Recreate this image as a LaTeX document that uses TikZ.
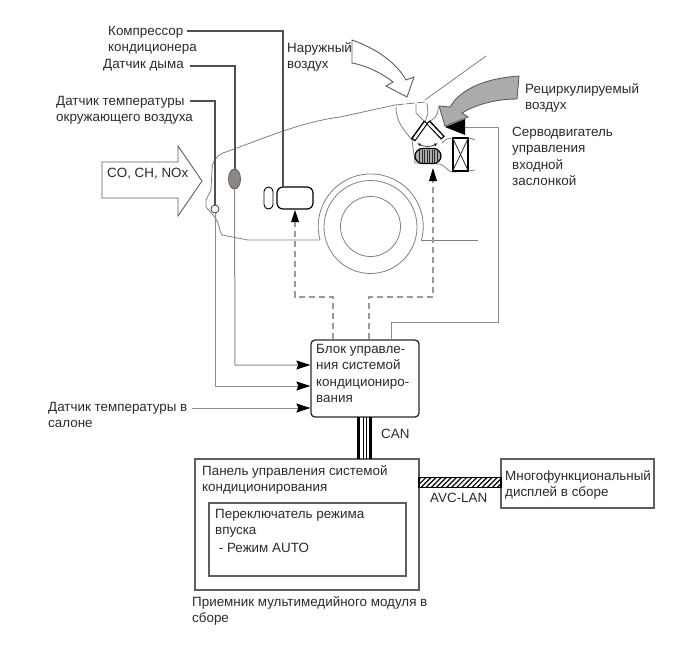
\documentclass[tikz,border=0pt]{standalone}
\usepackage{fontspec}
\setmainfont{Liberation Sans}
\usepackage{xcolor}
\usetikzlibrary{
  arrows.meta,
  shapes.geometric,
  patterns.meta,
  positioning,
  calc
}
\definecolor{acInk}{HTML}{2A2A2A}
\definecolor{acLead}{HTML}{505050}
\definecolor{acLine}{HTML}{5E5E5E}
\definecolor{acSig}{HTML}{8A8A8A}
\definecolor{acBody}{HTML}{808080}
\definecolor{acDash}{HTML}{9A9A9A}
\definecolor{acFill}{HTML}{ABABAB}
\definecolor{acSens}{HTML}{8C8780}
\tikzset{
  lbl/.style={font=\fontsize{13.4}{16.3}\selectfont, text=acInk, align=left, inner sep=0pt, anchor=north west},
  acbox/.style={draw=acInk, line width=1pt, inner sep=0pt},
  body/.style={draw=acBody, line width=0.8pt},
  leader/.style={draw=acLead, line width=1.1pt},
  sigline/.style={draw=acSig, line width=1pt, -{Stealth[length=14pt,width=9pt,inset=2pt,black]}},
  dashline/.style={draw=acDash, line width=1.1pt, dash pattern=on 6pt off 4pt},
  bigarrow/.style={draw=acLine, line width=0.9pt, fill=white},
  flap/.style={draw=black, line width=5pt, line cap=butt}
}
\begin{document}
\begin{tikzpicture}[x=1pt,y=-1pt]
  \useasboundingbox (0,0) rectangle (690,659);

  % car body and wheel
  \draw[body] (395,105) -- (340,117) .. controls (300,122) and (260,140) .. (223,153)
    .. controls (215,157) and (212,162) .. (212,170) -- (211,190) -- (206,200) -- (206,207)
    -- (213,215) .. controls (220,222) and (219,232) .. (222,235) -- (248,240) -- (320,240);
  \draw[body] (421,240) -- (478,240);
  \draw[body] (320,240) arc[start angle=195, end angle=-15, radius=52.5pt];
  \node[draw=acBody, line width=0.8pt, circle, minimum size=93pt, inner sep=0pt] (tyre) at (370.5,227) {};
  \node[draw=acBody, line width=0.8pt, circle, minimum size=60pt, inner sep=0pt] (wheel) at (370.5,226.5) {};

  % air intake ducts
  \draw[body] (486,56) -- (425,100);
  \draw[body, dash pattern=on 9pt off 2pt] (395,105) -- (425,102);
  \draw[body] (396,107) .. controls (396,122) and (404,130) .. (412,140) -- (415,163) -- (440,164)
    .. controls (446,166) and (448,172) .. (453,172) -- (468,171) .. controls (471,171) and (473,170) .. (475,170);
  \draw[body] (416,104) -- (416,113) -- (425,122) -- (428,113) -- (427,103);
  \draw[body] (438,107) .. controls (439,116) and (433,120) .. (428,122);
  \draw[body] (442,143) .. controls (445,139) and (449,138) .. (453,138) -- (468,138) .. controls (471,138) and (473,139) .. (475,140);
  \draw[flap] (426,122) -- (413,140);
  \draw[flap] (428,122) -- (443,138);
  \draw[white, line width=2.4pt] (425.5,123) -- (414,139);
  \draw[white, line width=2.4pt] (428.5,123) -- (442,137);
  \draw[acInk, line width=0.7pt, {Latex[length=4pt,width=3pt]}-{Latex[length=4pt,width=3pt]}]
    (417,143) .. controls (424,147) and (431,147) .. (438,143);

  % blower and filter
  \node[draw=black, line width=1.2pt, fill=acFill, rounded corners=7.5pt, minimum width=26pt, minimum height=15pt, inner sep=0pt] (blower) at (428,156) {};
  \foreach \x in {419.5,422,...,437}{\draw[acInk, line width=0.8pt] (\x,149.5) -- (\x,162.5);}
  \node[draw=black, line width=1.2pt, minimum width=15pt, minimum height=33pt, inner sep=0pt] (filter) at (460.5,154.5) {};
  \draw[acInk, line width=0.8pt] (filter.north west) -- (filter.south east);
  \draw[acInk, line width=0.8pt] (filter.north east) -- (filter.south west);

  % outside and recirculated air arrows
  \draw[bigarrow] (352,40) .. controls (375,48) and (396,62) .. (406,80) -- (414,77) -- (407,97) -- (386,86) -- (393,82)
    .. controls (383,74) and (368,66) .. (352,63) -- cycle;
  \draw[bigarrow, fill=acFill] (519,76) .. controls (490,78) and (468,86) .. (455,100) -- (450,107) -- (439,106)
    -- (445,126) -- (468,117) -- (462,113) .. controls (475,105) and (495,99) .. (517,99) -- cycle;
  \draw[bigarrow] (102,162) -- (178,162) -- (178,146) -- (202,181) -- (178,216) -- (178,198) -- (102,198) -- cycle;

  % components on the car
  \node[draw=black, line width=0.9pt, rounded corners=4.5pt, minimum width=9pt, minimum height=22pt, inner sep=0pt] (slim) at (268.5,198) {};
  \node[draw=black, line width=1.2pt, rounded corners=6pt, minimum width=36pt, minimum height=22pt, inner sep=0pt] (comp) at (295,198) {};
  \node[draw=acLine, line width=0.8pt, fill=acSens, ellipse, minimum width=12pt, minimum height=20pt, inner sep=0pt] (smoke) at (234.5,179) {};
  \node[draw=acInk, line width=0.7pt, fill=white, circle, minimum size=8pt, inner sep=0pt] (ambient) at (215,209) {};

  % control units
  \node[acbox, line width=1.3pt, rounded corners=4pt, minimum width=108pt, minimum height=77pt] (ecu) at (365,378.5) {};
  \node[acbox, draw=acLine, line width=1.2pt, minimum width=224pt, minimum height=131pt] (panel) at (307,524.5) {};
  \node[acbox, draw=acLine, line width=1.2pt, minimum width=197pt, minimum height=73pt] (mode) at (307.5,539.5) {};
  \node[acbox, draw=acLine, line width=1.2pt, minimum width=153pt, minimum height=49pt] (disp) at (577.5,483.5) {};

  % labels
  \node[lbl] (lcomp) at (108,26) {Компрессор\\кондиционера};
  \node[lbl] (lsmoke) at (103,59) {Датчик дыма};
  \node[lbl] (lamb) at (56,96) {Датчик температуры\\окружающего воздуха};
  \node[lbl] (lgas) at (107,168) {CO, CH, NOx};
  \node[lbl] (lout) at (287,42) {Наружный\\воздух};
  \node[lbl] (lrec) at (525,83) {Рециркулируемый\\воздух};
  \node[lbl] (lservo) at (512,127) {Серводвигатель\\управления\\входной\\заслонкой};
  \node[lbl] (lecu) at (316,344) {Блок управле-\\ния системой\\кондициониро-\\вания};
  \node[lbl] (lroom) at (48,402) {Датчик температуры в\\салоне};
  \node[lbl] (lcan) at (381,429) {CAN};
  \node[lbl] (lpanel) at (202,465) {Панель управления системой\\кондиционирования};
  \node[lbl] (lmode) at (215,509) {Переключатель режима\\впуска\\[1pt]\ - Режим AUTO};
  \node[lbl] (lavc) at (430,493) {AVC-LAN};
  \node[lbl] (ldisp) at (505,470) {Многофункциональный\\дисплей в сборе};
  \node[lbl] (lunit) at (192,596) {Приемник мультимедийного модуля в\\сборе};

  % leaders into the ECU
  \coordinate (c1) at (283,31);
  \coordinate (c2) at (235,66);
  \coordinate (c3) at (215,101);
  \draw[leader] (187,31) -- (c1) -- (c1 |- comp.north);
  \draw[leader] (190,66) -- (c2) -- (c2 |- smoke.north);
  \draw[leader] (190,101) -- (c3) -- (ambient.north);
  \draw[sigline] (smoke.south) -- (235,365) -- (ecu.west |- 0,365);
  \draw[sigline] (ambient.south) -- (215,386) -- (ecu.west |- 0,386);
  \draw[sigline] (192,408) -- (ecu.west |- 0,408);

  % dashed control lines
  \coordinate (d1) at (295,297);
  \coordinate (d2) at (333,297);
  \coordinate (d3) at (369,297);
  \coordinate (d4) at (433,297);
  \draw[dashline] (d2 |- ecu.north) -- (d2) -- (d1) -- (295,222);
  \draw[dashline] (d3 |- ecu.north) -- (d3) -- (d4) -- (433,181);
  \fill[black] (295,210) -- (291,222) -- (299,222) -- cycle;
  \fill[black] (433,168) -- (429,181) -- (437,181) -- cycle;

  % servo feed
  \coordinate (s1) at (391,322);
  \coordinate (s2) at (498,322);
  \coordinate (s3) at (498,127);
  \draw[draw=acSig, line width=0.9pt] (s1 |- ecu.north) -- (s1) -- (s2) -- (s3) -- (465,127);
  \fill[black] (445,127) -- (465,119) -- (465,135) -- cycle;

  % buses
  \foreach \x/\w in {358.7/3.4pt, 363.3/1.6pt, 366.7/1.2pt, 370.4/2.4pt}{\draw[black, line width=\w] (\x,417) -- (\x,459);}
  \draw[black, line width=1.8pt, preaction={fill=white}, pattern={Lines[angle=45,distance=3.6pt,line width=1.2pt]}] (419,477.5) rectangle (501,487.5);
\end{tikzpicture}
\end{document}
